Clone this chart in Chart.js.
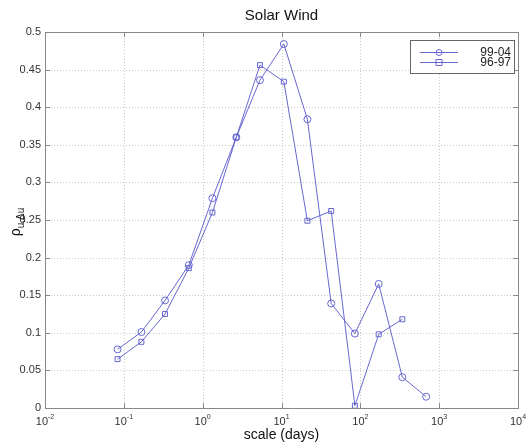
<!DOCTYPE html>
<html>
<head>
<meta charset="utf-8">
<script src="https://cdn.jsdelivr.net/npm/chart.js@4"></script>
<style>
html,body{margin:0;padding:0;background:#fff;}
#c{display:block;}
</style>
</head>
<body>
<canvas id="c" width="530" height="448"></canvas>
<script>
// ---- data ----
const scalesDays = [0.0833, 0.167, 0.333, 0.667, 1.33, 2.67, 5.33, 10.7, 21.3, 42.7, 85.3, 171, 341, 683];
const series9904 = [0.078, 0.101, 0.143, 0.190, 0.279, 0.360, 0.436, 0.484, 0.384, 0.139, 0.099, 0.165, 0.041, 0.015];
const series9697 = [0.065, 0.088, 0.125, 0.186, 0.260, 0.360, 0.456, 0.434, 0.249, 0.262, 0.003, 0.098, 0.118];
const seriesNames = ['99-04', '96-97'];
const xTickValues = [0.01, 0.1, 1, 10, 100, 1000, 10000];
const xTickExponents = ['-2', '-1', '0', '1', '2', '3', '4'];
const titleText = 'Solar Wind';
const xTitle = 'scale (days)';

const LINE = 'rgba(95,95,205,0.95)';
const FONT = '"Liberation Sans", Arial, sans-serif';

function pts(vals){ return vals.map((v,i)=>({x: scalesDays[i], y: v})); }

const deco = {
  id: 'deco',
  beforeDatasetsDraw(chart){
    const {ctx, chartArea:a} = chart;
    ctx.save();
    ctx.strokeStyle = '#c8c8c8';
    ctx.lineWidth = 1;
    ctx.setLineDash([1,2]);
    const xs = chart.scales.x, ys = chart.scales.y;
    xTickValues.forEach(v=>{
      const px = Math.round(xs.getPixelForValue(v))+0.5;
      if (px > a.left+1 && px < a.right-1){
        ctx.beginPath(); ctx.moveTo(px,a.top); ctx.lineTo(px,a.bottom); ctx.stroke();
      }
    });
    ys.ticks.forEach(t=>{
      const py = Math.round(ys.getPixelForValue(t.value))+0.5;
      if (py > a.top+1 && py < a.bottom-1){
        ctx.beginPath(); ctx.moveTo(a.left,py); ctx.lineTo(a.right,py); ctx.stroke();
      }
    });
    ctx.restore();
  },
  afterDraw(chart){
    const {ctx, chartArea:a} = chart;
    const xs = chart.scales.x, ys = chart.scales.y;
    ctx.save();
    ctx.strokeStyle = '#888';
    ctx.lineWidth = 1;
    ctx.setLineDash([]);
    ctx.strokeRect(Math.round(a.left)+0.5, Math.round(a.top)+0.5, Math.round(a.right-a.left), Math.round(a.bottom-a.top));
    const tl = 5;
    xTickValues.forEach(v=>{
      const px = Math.round(xs.getPixelForValue(v))+0.5;
      ctx.beginPath();
      ctx.moveTo(px,a.bottom); ctx.lineTo(px,a.bottom-tl);
      ctx.moveTo(px,a.top); ctx.lineTo(px,a.top+tl);
      ctx.stroke();
    });
    ys.ticks.forEach(t=>{
      const py = Math.round(ys.getPixelForValue(t.value))+0.5;
      ctx.beginPath();
      ctx.moveTo(a.left,py); ctx.lineTo(a.left+tl,py);
      ctx.moveTo(a.right,py); ctx.lineTo(a.right-tl,py);
      ctx.stroke();
    });
    ctx.fillStyle = '#333';
    xTickValues.forEach((v,i)=>{
      const px = xs.getPixelForValue(v);
      ctx.font = '11px ' + FONT;
      const bw = ctx.measureText('10').width;
      ctx.font = '7px ' + FONT;
      const ew = ctx.measureText(xTickExponents[i]).width;
      const x0 = px - (bw+ew)/2;
      ctx.textBaseline = 'alphabetic';
      ctx.textAlign = 'left';
      ctx.font = '11px ' + FONT;
      ctx.fillText('10', x0, a.bottom+17);
      ctx.font = '7px ' + FONT;
      ctx.fillText(xTickExponents[i], x0+bw, a.bottom+11);
    });
    ctx.fillStyle = '#111';
    ctx.textAlign = 'center';
    ctx.textBaseline = 'middle';
    ctx.font = '15px ' + FONT;
    ctx.fillText(titleText, (a.left+a.right)/2, 16);
    ctx.font = '14px ' + FONT;
    ctx.fillText(xTitle, (a.left+a.right)/2, 435);
    ctx.save();
    ctx.translate(16, 222);
    ctx.rotate(-Math.PI/2);
    ctx.textAlign = 'left';
    ctx.textBaseline = 'alphabetic';
    ctx.font = '14px ' + FONT;
    const rw = ctx.measureText('ρ').width;
    ctx.font = '10px ' + FONT;
    const sw = ctx.measureText('u,Δu').width;
    const start = -(rw+sw)/2;
    ctx.font = '14px ' + FONT;
    ctx.fillText('ρ', start, 4);
    ctx.font = '10px ' + FONT;
    ctx.fillText('u,Δu', start+rw, 8);
    ctx.restore();
    const lx = 410.5, ly = 40.5, lw = 104, lh = 33;
    ctx.fillStyle = '#fff';
    ctx.fillRect(lx, ly, lw, lh);
    ctx.strokeStyle = '#666';
    ctx.strokeRect(lx, ly, lw, lh);
    const rows = [52.5, 62.5];
    const styles = ['circle','rect'];
    rows.forEach((yy,i)=>{
      ctx.strokeStyle = LINE;
      ctx.lineWidth = 1;
      ctx.beginPath(); ctx.moveTo(420,yy); ctx.lineTo(458,yy); ctx.stroke();
      ctx.beginPath();
      if (styles[i]==='circle'){ ctx.arc(439,yy,3,0,Math.PI*2); }
      else { ctx.rect(436,yy-3,6,6); }
      ctx.stroke();
      ctx.fillStyle = '#222';
      ctx.font = '12px ' + FONT;
      ctx.textAlign = 'right';
      ctx.textBaseline = 'middle';
      ctx.fillText(seriesNames[i], 511, yy);
    });
    ctx.restore();
  }
};

new Chart(document.getElementById('c'), {
  type: 'line',
  data: {
    datasets: [
      { label: seriesNames[0], data: pts(series9904), borderColor: LINE, borderWidth: 1,
        pointStyle: 'circle', pointRadius: 3.5, pointBorderColor: LINE, pointBackgroundColor: 'rgba(0,0,0,0)',
        pointBorderWidth: 1, tension: 0, fill: false },
      { label: seriesNames[1], data: pts(series9697), borderColor: LINE, borderWidth: 1,
        pointStyle: 'rect', pointRadius: 3.5, pointBorderColor: LINE, pointBackgroundColor: 'rgba(0,0,0,0)',
        pointBorderWidth: 1, tension: 0, fill: false }
    ]
  },
  options: {
    responsive: false,
    animation: false,
    devicePixelRatio: 1,
    layout: { padding: { left: 0, right: 12, top: 32, bottom: 0 } },
    plugins: { legend: { display: false }, title: { display: false }, tooltip: { enabled: false } },
    scales: {
      x: {
        type: 'logarithmic', min: 0.01, max: 10000,
        afterBuildTicks(s){ s.ticks = xTickValues.map(v=>({value:v})); },
        afterFit(s){ s.height = 40; },
        grid: { display: false, drawTicks: false },
        border: { display: false },
        ticks: { display: false }
      },
      y: {
        min: 0, max: 0.5,
        afterFit(s){ s.width = 45; },
        grid: { display: false, drawTicks: false },
        border: { display: false },
        ticks: { stepSize: 0.05, color: '#333', padding: 4, font: { family: FONT, size: 11 },
          callback: v => String(Math.round(v*100)/100) }
      }
    }
  },
  plugins: [deco]
});
</script>
</body>
</html>
